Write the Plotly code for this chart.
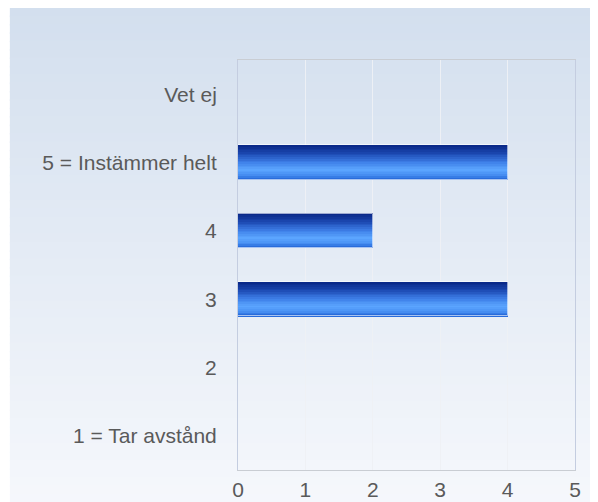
import plotly.graph_objects as go

# survey answers, bottom to top
categories = ["1 = Tar avstånd", "2", "3", "4", "5 = Instämmer helt", "Vet ej"]
counts = [0, 0, 4, 2, 4, 0]
x_ticks = [0, 1, 2, 3, 4, 5]


def mix(c1, c2, t):
    return tuple(round(a + (b - a) * t) for a, b in zip(c1, c2))


def ramp(stops, t):
    for (p0, c0), (p1, c1) in zip(stops, stops[1:]):
        if p0 <= t <= p1:
            return mix(c0, c1, (t - p0) / (p1 - p0))
    return stops[-1][1]


# bar shading, top (0) to bottom (1)
bar_stops = [(0.0, (8, 38, 132)), (0.25, (28, 72, 178)), (0.5, (62, 128, 232)),
             (0.72, (92, 166, 255)), (0.86, (74, 146, 244)), (1.0, (34, 100, 214))]
bg_stops = [(0.0, (211, 223, 238)), (1.0, (246, 248, 252))]

fig = go.Figure()

bar_w = 0.5
n_strips = 20
h = bar_w / n_strips
for i in range(n_strips):
    r, g, b = ramp(bar_stops, (i + 0.5) / n_strips)
    fig.add_bar(x=counts, y=categories, orientation="h",
                width=h * 1.15, offset=bar_w / 2 - (i + 1) * h,
                marker=dict(color=f"rgb({r},{g},{b})", line=dict(width=0)),
                hoverinfo="skip", showlegend=False)

# thin light outline round each bar
fig.add_bar(x=counts, y=categories, orientation="h", width=bar_w,
            marker=dict(color="rgba(0,0,0,0)",
                        line=dict(color="rgba(255,255,255,0.6)", width=1)),
            showlegend=False)

# background gradient of the whole card
n_bg = 60
y_top, y_bot = 1.127, -0.1
for i in range(n_bg):
    r, g, b = ramp(bg_stops, (i + 0.5) / n_bg)
    y0 = y_top - (y_top - y_bot) * i / n_bg
    y1 = y_top - (y_top - y_bot) * (i + 1) / n_bg
    fig.add_shape(type="rect", xref="paper", yref="paper",
                  x0=-0.677, x1=1.3, y0=y1 - 0.002, y1=y0 + 0.002,
                  fillcolor=f"rgb({r},{g},{b})", line=dict(width=0),
                  layer="below")

font = dict(family="Liberation Sans, Arial, sans-serif", size=21, color="#5a5a5a")

fig.update_layout(
    width=590, height=494,
    margin=dict(l=230, r=23, t=52, b=32),
    paper_bgcolor="white", plot_bgcolor="rgba(0,0,0,0)",
    barmode="overlay", bargap=0,
    font=font,
)
fig.update_xaxes(range=[0, 5], tickvals=x_ticks, showgrid=True,
                 gridcolor="rgba(238,240,244,0.95)", gridwidth=1,
                 showline=True, linecolor="#c9cdd3", linewidth=1, mirror=True,
                 zeroline=False, ticks="", ticklabelstandoff=1, tickfont=font,
                 automargin=False)
fig.update_yaxes(categoryorder="array", categoryarray=categories,
                 range=[-0.5, 5.5], showgrid=False,
                 showline=True, linecolor="#c4cde0", linewidth=1, mirror=True,
                 ticks="", ticklabelstandoff=16, tickfont=font,
                 automargin=False)

fig.write_html("out.html")
